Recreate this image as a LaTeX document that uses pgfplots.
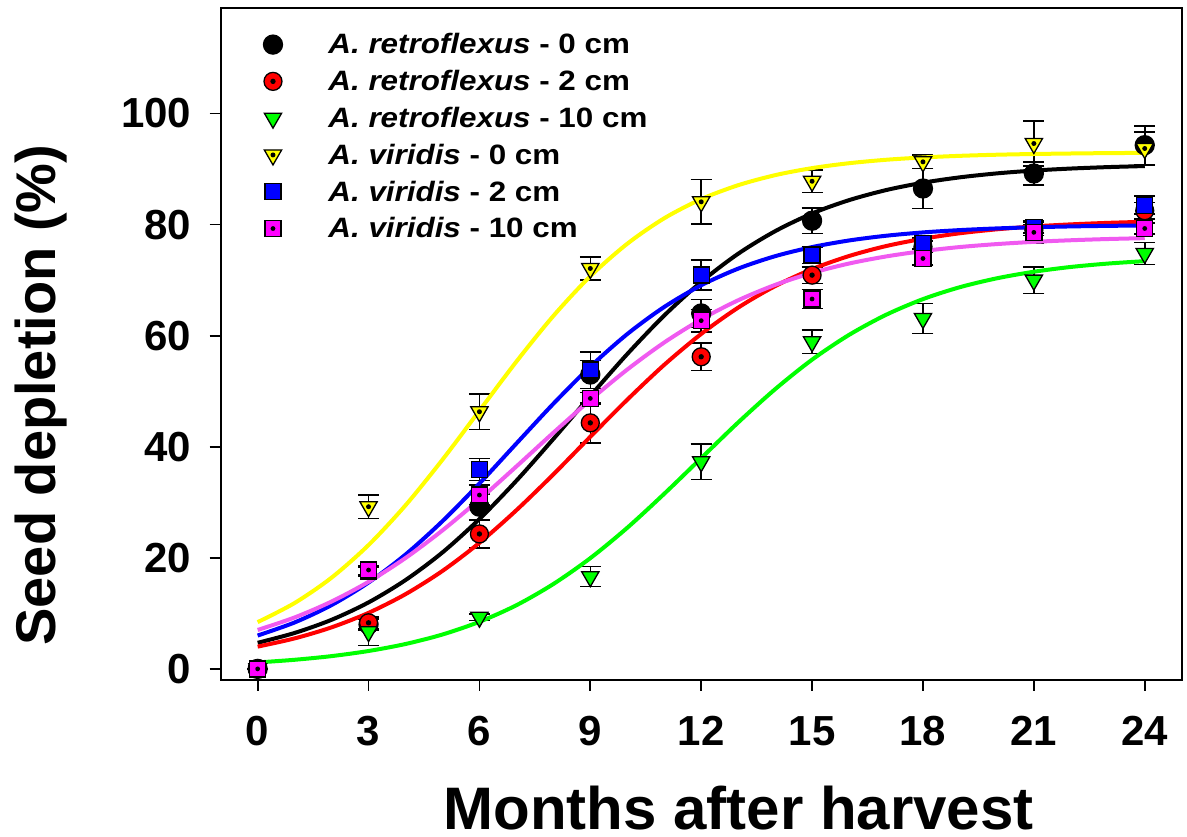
\documentclass[border=0pt]{standalone}
\usepackage{fontspec}
\setmainfont{Liberation Sans}
\newfontfamily\legfont[FakeStretch=1.12]{Liberation Sans}
\usepackage{pgfplots}
\usepackage{pgfplotstable}
\pgfplotsset{compat=1.18}

\definecolor{myred}{RGB}{255,0,0}
\definecolor{mygreen}{RGB}{0,255,0}
\definecolor{myyellow}{RGB}{255,255,0}
\definecolor{myblue}{RGB}{0,0,255}
\definecolor{mymag}{RGB}{255,0,255}
\definecolor{mymagline}{RGB}{240,90,240}

\pgfdeclareplotmark{dotcircle}{%
  \pgfpathcircle{\pgfpointorigin}{\pgfplotmarksize}%
  \pgfusepathqfillstroke
  \begin{pgfscope}\pgfsetfillcolor{black}%
  \pgfpathcircle{\pgfpointorigin}{0.3\pgfplotmarksize}%
  \pgfusepathqfill\end{pgfscope}}
\pgfdeclareplotmark{tridown}{%
  \pgfpathmoveto{\pgfpoint{0pt}{-\pgfplotmarksize}}%
  \pgfpathlineto{\pgfpoint{0.866\pgfplotmarksize}{0.5\pgfplotmarksize}}%
  \pgfpathlineto{\pgfpoint{-0.866\pgfplotmarksize}{0.5\pgfplotmarksize}}%
  \pgfpathclose\pgfusepathqfillstroke}
\pgfdeclareplotmark{tridowndot}{%
  \pgfpathmoveto{\pgfpoint{0pt}{-\pgfplotmarksize}}%
  \pgfpathlineto{\pgfpoint{0.866\pgfplotmarksize}{0.5\pgfplotmarksize}}%
  \pgfpathlineto{\pgfpoint{-0.866\pgfplotmarksize}{0.5\pgfplotmarksize}}%
  \pgfpathclose\pgfusepathqfillstroke
  \begin{pgfscope}\pgfsetfillcolor{black}%
  \pgfpathcircle{\pgfpointorigin}{0.25\pgfplotmarksize}%
  \pgfusepathqfill\end{pgfscope}}
\pgfdeclareplotmark{sq}{%
  \pgfpathrectangle{\pgfpoint{-\pgfplotmarksize}{-\pgfplotmarksize}}{\pgfpoint{2\pgfplotmarksize}{2\pgfplotmarksize}}%
  \pgfusepathqfillstroke}
\pgfdeclareplotmark{sqdot}{%
  \pgfpathrectangle{\pgfpoint{-\pgfplotmarksize}{-\pgfplotmarksize}}{\pgfpoint{2\pgfplotmarksize}{2\pgfplotmarksize}}%
  \pgfusepathqfillstroke
  \begin{pgfscope}\pgfsetfillcolor{black}%
  \pgfpathcircle{\pgfpointorigin}{0.3\pgfplotmarksize}%
  \pgfusepathqfill\end{pgfscope}}

% scatter data: x, mean, error
\pgfplotstableread{
x y e
0 0 0
3 8.0 1.0
6 29.2 2.3
9 53.0 2.5
12 64.0 2.5
15 80.7 2.3
18 86.5 3.6
21 89.2 2.1
24 94.3 3.5
}\retroA
\pgfplotstableread{
x y e
0 0 0
3 8.3 1.0
6 24.3 2.5
9 44.3 3.6
12 56.2 2.5
15 70.9 1.5
18 76.0 1.0
21 79.0 1.0
24 82.5 1.5
}\retroB
\pgfplotstableread{
x y e
0 0 0
3 6.7 2.5
6 9.3 0.6
9 16.6 1.8
12 37.3 3.2
15 58.9 2.1
18 63.1 2.7
21 70.0 2.4
24 74.8 2.0
}\retroC
\pgfplotstableread{
x y e
0 0 0
3 29.2 2.1
6 46.3 3.2
9 72.1 2.1
12 84.1 4.0
15 87.8 2.0
18 91.3 1.2
21 94.6 4.1
24 93.7 3.0
}\virA
\pgfplotstableread{
x y e
0 0 0
3 17.5 0.8
6 35.9 2.0
9 53.8 3.3
12 70.9 2.7
15 74.5 1.5
18 76.6 1.0
21 79.5 1.0
24 83.5 1.6
}\virB
\pgfplotstableread{
x y e
0 0 0
3 17.8 0.8
6 31.3 1.8
9 48.7 1.1
12 62.7 2.0
15 66.6 1.7
18 73.9 1.2
21 78.6 2.0
24 79.3 1.0
}\virC

% fitted curves read off the picture: x, black, red, green, yellow, blue, magenta
\pgfplotstableread{
x k r g yl b m
0 4.70 4.01 1.16 8.42 6.01 7.01
1 6.47 5.49 1.64 11.86 8.36 9.26
2 8.84 7.48 2.30 16.43 11.49 12.13
3 11.97 10.09 3.22 22.30 15.55 15.68
4 15.99 13.45 4.48 29.45 20.59 19.96
5 20.97 17.64 6.19 37.67 26.60 24.94
6 26.99 22.70 8.48 46.50 33.38 30.50
7 33.88 28.57 11.46 55.33 40.58 36.45
8 41.40 35.02 15.28 63.55 47.74 42.52
9 49.14 41.80 19.94 70.70 54.42 48.42
10 56.69 48.47 25.41 76.55 60.29 53.90
11 63.63 54.75 31.53 81.14 65.17 58.77
12 69.68 60.31 37.95 84.58 69.07 62.93
13 74.75 65.05 44.37 87.09 72.07 66.37
14 78.81 68.92 50.36 88.90 74.31 69.14
15 82.00 71.98 55.68 90.17 75.95 71.30
16 84.40 74.34 60.14 91.05 77.14 72.99
17 86.21 76.13 63.75 91.67 77.99 74.26
18 87.54 77.45 66.58 92.09 78.59 75.23
19 88.51 78.44 68.73 92.38 79.01 75.96
20 89.22 79.15 70.33 92.58 79.31 76.49
21 89.73 79.67 71.51 92.71 79.52 76.89
22 90.09 80.04 72.37 92.80 79.67 77.18
23 90.35 80.31 72.98 92.87 79.77 77.40
24 90.54 80.51 73.42 92.91 79.84 77.56
}\fits

\pgfplotsset{
  errs/.style={forget plot, only marks, mark=none, black,
    error bars/y dir=both, error bars/y explicit,
    error bars/error bar style={line width=1.6pt, black},
    error bars/error mark options={rotate=90, mark size=10.5pt, line width=1.6pt, black}},
  fit/.style={forget plot, no marks, line width=4pt, smooth}
}

\begin{document}
\begin{tikzpicture}
\begin{axis}[
  at={(0pt,0pt)}, anchor=south west,
  scale only axis, width=961pt, height=672pt,
  xmin=-1, xmax=25, ymin=-2, ymax=119,
  xtick={0,3,...,24}, ytick={0,20,...,100},
  tick align=outside, xtick pos=bottom, ytick pos=left,
  major tick length=11pt,
  axis line style={line width=1.8pt},
  every tick/.style={black, line width=1.8pt},
  /pgf/number format/assume math mode=true,
  ticklabel style={font=\fontsize{42}{50}\selectfont\bfseries},
  xticklabel style={yshift=-22pt},
  yticklabel style={xshift=-15pt},
  xlabel={Months after harvest},
  ylabel={Seed depletion (\%)},
  xlabel style={font=\fontsize{60}{70}\selectfont\bfseries, at={(axis description cs:0.539,-0.222)}, anchor=base},
  ylabel style={font=\fontsize{56}{66}\selectfont\bfseries, at={(axis description cs:-0.1724,0.424)}, anchor=base},
  legend cell align=left,
  legend style={draw=none, fill=none, at={(axis description cs:0.0412,0.968)}, anchor=north west,
    font=\legfont\fontsize{28}{34}\selectfont\bfseries, row sep=11pt,
    /tikz/every odd column/.append style={column sep=44pt}},
]
\addplot[errs] table[x=x,y=y,y error=e] {\retroA};
\addplot[only marks, mark=*, mark size=9.5pt, mark options={draw=black, fill=black, line width=1.3pt}] table[x=x,y=y] {\retroA};
\addlegendentry{\textit{A. retroflexus} - 0 cm}
\addplot[errs] table[x=x,y=y,y error=e] {\retroB};
\addplot[only marks, mark=dotcircle, mark size=9pt, mark options={draw=black, fill=myred, line width=1.3pt}] table[x=x,y=y] {\retroB};
\addlegendentry{\textit{A. retroflexus} - 2 cm}
\addplot[errs] table[x=x,y=y,y error=e] {\retroC};
\addplot[only marks, mark=tridown, mark size=10pt, mark options={draw=black, fill=mygreen, line width=1.3pt}] table[x=x,y=y] {\retroC};
\addlegendentry{\textit{A. retroflexus} - 10 cm}
\addplot[errs] table[x=x,y=y,y error=e] {\virA};
\addplot[only marks, mark=tridowndot, mark size=10pt, mark options={draw=black, fill=myyellow, line width=1.3pt}] table[x=x,y=y] {\virA};
\addlegendentry{\textit{A. viridis} - 0 cm}
\addplot[errs] table[x=x,y=y,y error=e] {\virB};
\addplot[only marks, mark=sq, mark size=8pt, mark options={draw=black, fill=myblue, line width=1.3pt}] table[x=x,y=y] {\virB};
\addlegendentry{\textit{A. viridis} - 2 cm}
\addplot[errs] table[x=x,y=y,y error=e] {\virC};
\addplot[only marks, mark=sqdot, mark size=8pt, mark options={draw=black, fill=mymag, line width=1.3pt}] table[x=x,y=y] {\virC};
\addlegendentry{\textit{A. viridis} - 10 cm}

\addplot[fit, black] table[x=x,y=k] {\fits};
\addplot[fit, myred] table[x=x,y=r] {\fits};
\addplot[fit, mygreen] table[x=x,y=g] {\fits};
\addplot[fit, myyellow] table[x=x,y=yl] {\fits};
\addplot[fit, myblue] table[x=x,y=b] {\fits};
\addplot[fit, mymagline] table[x=x,y=m] {\fits};
\end{axis}
\pgfresetboundingbox
\path (-220.7pt,-157pt) rectangle (966.3pt,680pt);
\end{tikzpicture}
\end{document}
